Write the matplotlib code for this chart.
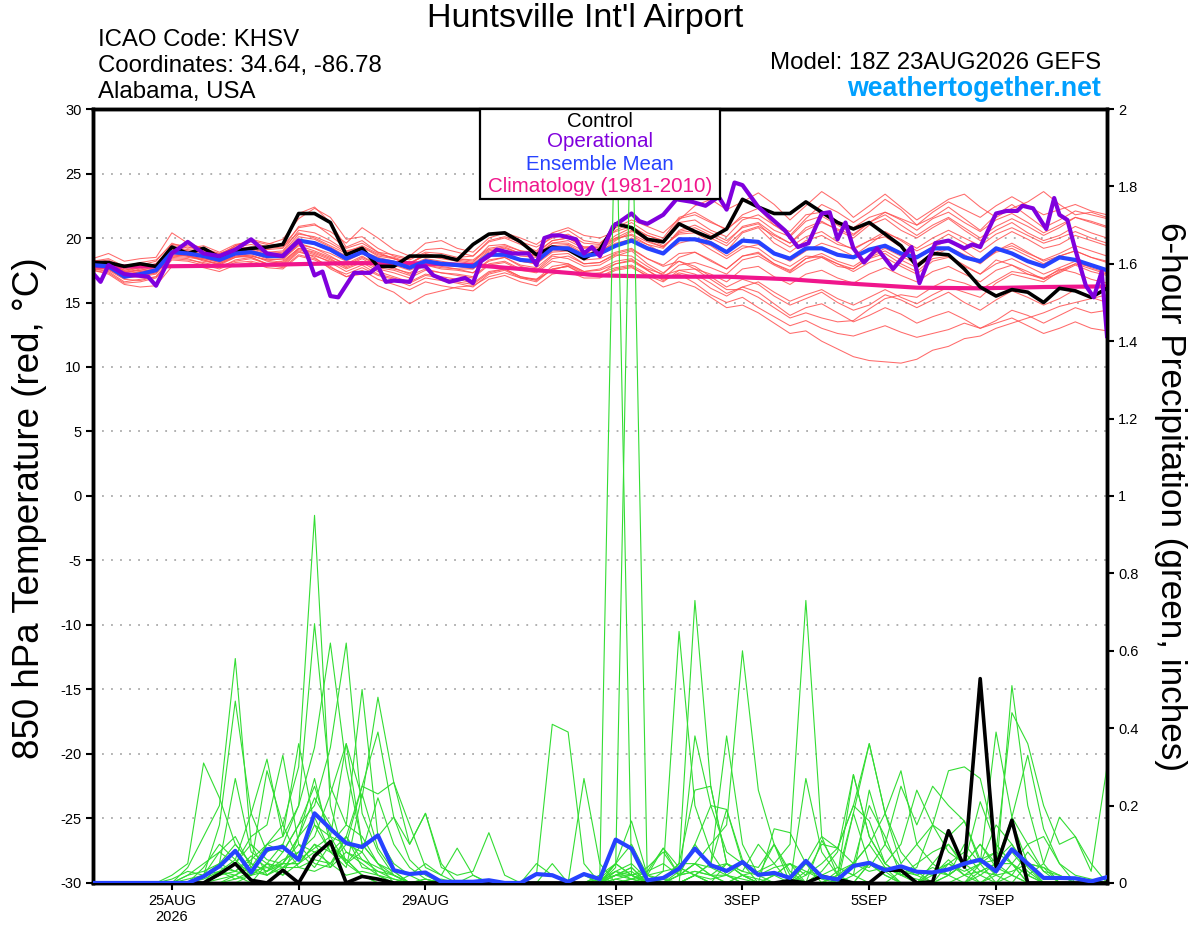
import numpy as np
import pandas as pd
import matplotlib
matplotlib.use('Agg')
import matplotlib.pyplot as plt
from matplotlib.patches import Rectangle

plt.rcParams['font.family'] = ['Liberation Sans', 'DejaVu Sans']
plt.rcParams['axes.unicode_minus'] = False

# GEFS 18Z 23AUG2026 run, 6-hourly out to 384 h
RUN = pd.Timestamp('2026-08-23 18:00')
times = pd.date_range(RUN, periods=65, freq='6h')

# 850 hPa temperature (C)
ctrl_temp = [18.1, 18.1, 17.8, 18.0, 17.8, 19.3, 18.8, 19.2, 18.5, 19.0, 19.2, 19.3, 19.5, 21.9, 21.9, 21.2,
             18.7, 19.2, 17.8, 17.8, 18.6, 18.6, 18.6, 18.3, 19.5, 20.3, 20.4, 19.7, 18.7, 19.3, 19.1, 18.4,
             19.1, 21.1, 20.8, 19.9, 19.7, 21.1, 20.5, 20.0, 20.7, 23.0, 22.4, 21.9, 21.9, 22.8, 22.0, 21.2,
             20.7, 21.2, 20.3, 19.4, 17.8, 18.8, 18.7, 17.6, 16.2, 15.5, 16.0, 15.8, 15.0, 16.1, 15.9, 15.4, 16.1]
mean_temp = [17.9, 17.8, 17.0, 17.2, 17.5, 18.9, 18.8, 18.6, 18.3, 18.8, 18.9, 18.6, 18.6, 19.8, 19.6, 19.1,
             18.4, 18.9, 18.3, 18.1, 17.7, 18.2, 18.0, 17.9, 17.8, 18.7, 18.7, 18.3, 18.2, 19.2, 19.2, 18.6,
             18.8, 19.4, 19.8, 19.2, 18.8, 19.9, 19.9, 19.6, 18.9, 19.8, 19.7, 18.8, 18.4, 19.2, 19.2, 18.7,
             18.5, 19.1, 19.4, 18.8, 18.5, 19.2, 19.2, 18.5, 18.2, 19.2, 18.8, 18.2, 17.8, 18.5, 18.3, 17.9, 17.5]

# operational run, hours after 18Z 23AUG
op_hours = [0, 3, 6, 12, 21, 24, 30, 36, 42, 48, 54, 60, 66, 72, 78, 81, 84, 87, 90, 93, 99, 105, 108, 111,
            114, 120, 123, 126, 129, 135, 141, 144, 147, 150, 153, 159, 165, 168, 171, 174, 177, 183, 186, 189, 192,
            197, 204, 207, 210, 216, 221, 227, 232, 237, 240, 243, 246, 252, 257, 262, 267, 271, 276, 279, 282,
            285, 288, 292, 297, 303, 310, 313, 319, 324, 330, 333, 336, 342, 346, 350, 352, 356, 361, 364, 366,
            369, 372, 376, 379, 382, 384]
op_temp = [17.3, 16.6, 17.9, 17.2, 17.0, 16.3, 18.8, 19.7, 18.8, 18.6, 19.1, 19.9, 18.8, 18.6, 19.8, 18.8, 17.1,
           17.4, 15.5, 15.4, 17.3, 17.3, 17.8, 16.6, 16.7, 16.6, 17.8, 17.8, 17.1, 16.6, 16.9, 16.5, 18.2, 18.6,
           19.1, 18.8, 18.8, 17.9, 20.0, 20.2, 20.2, 19.9, 18.8, 19.3, 18.6,
           20.9, 21.9, 21.3, 21.1, 21.8, 23.0, 22.8, 22.5, 23.2, 22.2, 24.3, 24.1, 22.4, 21.5, 20.6, 19.3, 19.6,
           21.9, 22.0, 19.9, 21.2, 19.2, 18.1, 19.2, 17.6, 19.3, 16.5, 19.6, 19.8, 19.2, 19.5, 19.3, 21.9, 22.1,
           22.1, 22.5, 22.3, 20.7, 23.1, 21.8, 21.4, 19.1, 16.3, 15.4, 17.4, 12.4]

# climatology 1981-2010, daily at 18Z
clim_hours = list(range(0, 385, 24))
clim_temp = [17.8, 17.8, 17.85, 17.95, 18.05, 18.05, 17.9, 17.5, 17.1, 17.0, 17.0, 16.8, 16.45, 16.15, 16.1, 16.2, 16.25]

temp_members = [
    [18.0, 17.9, 17.3, 17.6, 17.9, 19.4, 19.3, 19.0, 18.6, 19.4, 19.8, 19.5, 19.9, 21.5, 22.3, 21.6,
     19.9, 20.1, 19.2, 18.6, 18.3, 18.9, 18.8, 18.5, 18.6, 19.7, 20.0, 19.5, 19.0, 20.2, 20.6, 19.8,
     19.6, 20.6, 21.2, 20.4, 20.0, 21.6, 22.0, 21.3, 20.6, 21.8, 22.3, 21.0, 20.2, 21.5, 22.6, 22.0,
     21.2, 22.0, 23.0, 22.2, 21.0, 21.6, 22.4, 21.5, 20.6, 21.8, 22.6, 21.7, 20.8, 21.4, 22.1, 21.8, 21.5],
    [17.6, 17.4, 16.6, 16.8, 17.0, 18.4, 18.3, 18.1, 17.8, 18.2, 18.4, 18.0, 17.8, 18.9, 18.6, 18.2,
     17.6, 18.1, 17.4, 17.0, 16.6, 17.2, 17.0, 16.8, 16.5, 17.4, 17.6, 17.0, 16.7, 17.6, 17.8, 17.1,
     17.0, 17.6, 17.8, 17.0, 16.2, 16.6, 16.2, 15.4, 14.6, 14.8, 14.2, 13.4, 12.6, 12.8, 12.0, 11.4,
     10.8, 10.5, 10.4, 10.3, 10.6, 11.3, 11.6, 12.2, 12.4, 13.0, 13.4, 13.8, 14.2, 14.7, 15.0, 15.3, 15.6],
    [17.8, 17.7, 17.2, 17.0, 17.3, 18.6, 18.7, 18.2, 18.0, 18.6, 18.5, 18.0, 18.2, 19.2, 18.8, 18.3,
     17.8, 18.4, 17.7, 17.5, 17.1, 17.6, 17.3, 17.1, 16.9, 17.9, 18.1, 17.5, 17.3, 18.2, 18.0, 17.4,
     17.6, 18.2, 18.4, 17.5, 16.8, 17.2, 16.5, 15.6, 15.0, 15.4, 14.6, 13.9, 13.2, 13.6, 13.0, 12.6,
     12.4, 12.8, 13.2, 12.7, 12.3, 12.6, 12.9, 13.4, 13.0, 13.6, 14.4, 14.0, 13.4, 14.0, 14.6, 14.2, 14.4],
    [18.2, 18.0, 17.4, 17.5, 17.7, 19.0, 18.6, 18.4, 18.2, 18.7, 18.6, 18.3, 18.4, 19.4, 19.0, 18.5,
     18.0, 18.6, 17.9, 17.7, 17.2, 17.9, 17.6, 17.5, 17.3, 18.2, 18.5, 17.8, 17.5, 18.6, 18.4, 17.8,
     17.9, 18.6, 19.0, 18.0, 17.3, 18.2, 17.8, 17.0, 16.2, 16.8, 16.4, 15.5, 14.8, 15.3, 15.8, 15.0,
     14.4, 14.8, 15.6, 15.2, 14.6, 15.2, 15.8, 15.0, 14.4, 15.2, 15.9, 15.4, 14.8, 15.3, 16.0, 15.4, 15.0],
    [18.1, 18.3, 17.6, 17.9, 18.2, 19.6, 19.2, 19.4, 18.9, 19.5, 19.7, 19.3, 19.6, 21.9, 22.4, 21.2,
     19.3, 19.8, 18.9, 18.4, 18.0, 18.8, 18.5, 18.3, 18.1, 19.4, 19.5, 19.0, 18.8, 19.8, 20.0, 19.3,
     19.2, 20.0, 20.6, 19.8, 19.3, 20.5, 20.8, 20.2, 19.6, 20.9, 21.2, 20.3, 19.6, 20.8, 21.3, 20.6,
     20.0, 21.0, 21.5, 20.6, 20.0, 20.8, 21.5, 20.6, 19.8, 20.6, 21.2, 20.4, 19.8, 20.2, 20.9, 20.4, 20.0],
    [17.7, 17.6, 16.9, 17.2, 17.4, 18.8, 18.9, 18.5, 18.1, 18.7, 19.0, 18.6, 18.5, 19.6, 19.2, 18.8,
     18.2, 18.8, 18.1, 17.9, 17.5, 18.0, 17.8, 17.6, 17.6, 18.6, 18.9, 18.2, 18.0, 19.2, 19.4, 18.7,
     18.9, 19.8, 20.5, 20.2, 19.8, 21.4, 22.5, 23.0, 22.2, 22.8, 23.5, 22.6, 21.4, 22.5, 23.6, 22.8,
     21.6, 22.5, 23.4, 22.4, 21.4, 22.2, 23.0, 23.4, 22.4, 21.6, 22.3, 22.8, 23.6, 22.6, 21.8, 22.0, 21.6],
    [17.9, 17.9, 17.1, 17.4, 17.6, 19.0, 18.9, 18.8, 18.4, 18.9, 19.1, 18.7, 18.8, 20.1, 19.9, 19.3,
     18.6, 19.0, 18.5, 18.2, 17.9, 18.4, 18.2, 18.0, 17.9, 18.9, 19.0, 18.6, 18.5, 19.4, 19.5, 18.8,
     19.0, 19.6, 19.9, 19.3, 18.9, 20.0, 19.8, 19.4, 18.6, 19.4, 19.2, 18.3, 17.8, 18.6, 18.5, 17.8,
     17.6, 18.4, 18.8, 18.0, 17.4, 18.4, 18.6, 17.9, 17.2, 18.3, 17.9, 17.2, 16.8, 17.6, 17.3, 16.8, 16.5],
    [18.3, 18.1, 17.5, 17.8, 18.0, 19.2, 19.0, 18.9, 18.6, 19.0, 19.2, 18.9, 19.0, 20.6, 20.4, 19.8,
     19.0, 19.3, 18.7, 18.5, 18.1, 18.6, 18.4, 18.2, 18.0, 19.0, 19.2, 18.8, 18.7, 19.6, 19.8, 19.2,
     19.3, 20.2, 20.8, 20.0, 19.4, 20.3, 20.4, 19.7, 19.0, 20.4, 20.8, 19.6, 18.9, 19.8, 20.2, 19.5,
     19.2, 19.8, 20.5, 19.8, 19.0, 19.6, 20.3, 19.6, 18.9, 19.8, 20.5, 19.9, 19.2, 19.5, 20.2, 19.8, 19.4],
    [17.5, 17.3, 16.5, 16.6, 16.9, 18.3, 18.2, 17.9, 17.6, 18.1, 18.2, 17.9, 17.7, 18.7, 18.4, 17.8,
     17.0, 17.5, 16.8, 16.4, 16.0, 16.6, 16.3, 16.1, 15.9, 16.8, 17.1, 16.6, 16.3, 17.2, 17.4, 16.9,
     16.9, 17.5, 17.7, 17.1, 16.6, 17.5, 17.6, 17.2, 16.6, 17.6, 17.8, 17.0, 16.4, 17.2, 17.5, 16.9,
     16.5, 17.2, 17.7, 17.1, 16.6, 17.4, 17.8, 17.2, 16.6, 17.5, 17.9, 17.4, 16.8, 17.3, 17.9, 17.4, 17.1],
    [18.4, 18.8, 18.2, 18.4, 18.5, 20.4, 19.6, 19.2, 18.7, 19.4, 19.9, 19.6, 19.4, 20.8, 21.0, 20.5,
     19.6, 20.8, 20.0, 19.1, 18.6, 19.6, 19.8, 19.2, 18.9, 20.0, 20.4, 20.0, 19.5, 20.4, 20.8, 20.2,
     20.0, 20.5, 20.9, 20.2, 19.8, 21.2, 21.4, 20.6, 20.1, 21.4, 21.8, 21.0, 20.5, 21.8, 22.0, 21.3,
     20.8, 21.6, 22.0, 21.4, 20.6, 21.5, 22.0, 21.2, 20.5, 21.4, 21.9, 21.2, 20.4, 21.0, 21.6, 21.2, 20.8],
    [17.6, 17.5, 16.8, 16.7, 17.0, 18.5, 18.4, 18.0, 17.7, 18.3, 18.5, 18.0, 17.9, 19.0, 18.5, 17.6,
     17.0, 17.2, 16.3, 15.8, 14.9, 15.6, 15.9, 16.2, 16.3, 17.0, 17.3, 16.9, 16.8, 17.5, 17.9, 17.3,
     17.2, 18.0, 18.3, 17.6, 17.2, 18.5, 18.9, 18.3, 17.6, 18.6, 18.9, 18.0, 17.4, 18.4, 18.6, 18.0,
     17.4, 18.1, 18.5, 17.8, 17.2, 18.2, 18.5, 17.8, 17.2, 18.0, 18.4, 17.8, 17.2, 17.7, 18.2, 17.7, 17.3],
    [17.9, 17.7, 17.0, 17.3, 17.5, 18.8, 18.6, 18.4, 18.1, 18.6, 18.8, 18.4, 18.3, 19.5, 19.2, 18.6,
     17.9, 18.5, 17.9, 17.6, 17.3, 17.9, 17.7, 17.6, 17.3, 18.3, 18.5, 17.9, 17.7, 18.7, 18.8, 18.0,
     18.1, 18.7, 18.6, 17.8, 17.1, 17.5, 17.2, 16.5, 15.7, 16.2, 15.8, 14.9, 14.0, 14.6, 14.9, 14.2,
     13.5, 14.0, 14.6, 14.1, 13.4, 13.9, 14.3, 13.7, 13.0, 13.4, 13.8, 13.2, 12.6, 13.0, 13.5, 13.0, 12.8],
    [18.0, 18.1, 17.4, 17.7, 17.9, 19.3, 19.1, 19.0, 18.8, 19.2, 19.3, 19.1, 19.2, 20.9, 21.1, 20.2,
     19.2, 19.6, 18.9, 18.7, 18.4, 19.1, 19.2, 18.9, 18.6, 19.8, 20.1, 19.7, 19.3, 20.0, 20.3, 19.6,
     19.5, 20.8, 21.4, 20.9, 20.4, 21.5, 21.8, 21.2, 20.7, 21.6, 21.5, 20.6, 20.1, 21.3, 21.7, 21.0,
     20.3, 21.2, 21.8, 21.0, 20.2, 21.0, 21.6, 20.8, 20.0, 20.9, 21.5, 20.9, 20.2, 20.8, 21.6, 21.3, 20.9],
    [17.7, 17.8, 17.2, 17.4, 17.6, 18.9, 18.7, 18.5, 18.3, 18.8, 18.9, 18.5, 18.6, 19.8, 19.5, 19.0,
     18.3, 18.9, 18.3, 18.0, 17.7, 18.3, 18.1, 17.9, 17.7, 18.7, 18.8, 18.3, 18.1, 19.0, 19.1, 18.5,
     18.7, 19.4, 20.0, 19.5, 19.2, 20.6, 21.0, 20.4, 19.8, 20.8, 21.1, 20.0, 19.3, 20.1, 20.5, 19.7,
     19.1, 19.8, 20.1, 19.3, 18.6, 19.3, 19.8, 19.0, 18.2, 19.0, 19.6, 18.9, 18.2, 18.6, 19.0, 18.5, 18.1],
    [18.0, 17.6, 16.9, 17.1, 17.3, 18.6, 18.5, 18.3, 17.9, 18.5, 18.7, 18.2, 18.0, 19.1, 18.7, 18.1,
     17.4, 17.9, 17.2, 16.9, 16.5, 17.1, 16.9, 16.6, 16.4, 17.3, 17.6, 17.0, 16.8, 17.8, 18.0, 17.4,
     17.5, 18.0, 18.2, 17.5, 16.7, 17.3, 17.0, 16.1, 15.5, 16.2, 16.6, 15.8, 15.1, 15.6, 16.0, 15.3,
     14.8, 15.4, 16.0, 15.4, 14.9, 15.6, 16.2, 15.8, 15.4, 16.5, 17.2, 16.9, 16.6, 17.4, 18.0, 17.8, 17.6],
    [18.2, 18.4, 17.8, 18.1, 18.3, 19.5, 19.4, 19.2, 18.8, 19.3, 19.5, 19.2, 19.3, 20.4, 20.0, 19.4,
     18.8, 19.3, 18.6, 18.4, 18.0, 18.7, 18.6, 18.4, 18.3, 19.2, 19.4, 19.0, 18.9, 19.8, 20.0, 19.3,
     19.4, 20.0, 20.2, 19.5, 18.8, 19.6, 19.9, 19.1, 18.4, 19.2, 19.5, 18.8, 18.2, 19.0, 19.6, 19.2,
     18.6, 19.5, 20.4, 19.9, 19.2, 20.0, 20.6, 20.0, 19.4, 20.3, 20.8, 20.2, 19.6, 20.0, 20.5, 20.0, 19.6],
    [17.5, 17.2, 16.4, 16.2, 16.3, 17.8, 17.9, 17.7, 17.4, 17.9, 18.1, 17.7, 17.6, 18.6, 18.3, 17.7,
     17.2, 17.7, 17.1, 16.8, 16.3, 16.9, 16.7, 16.5, 16.2, 17.2, 17.5, 16.9, 16.6, 17.6, 17.8, 17.2,
     17.3, 17.7, 17.9, 17.2, 16.9, 17.9, 18.1, 17.7, 17.2, 18.3, 18.6, 17.9, 17.3, 18.1, 18.5, 18.0,
     17.6, 18.5, 19.0, 18.3, 17.7, 18.6, 19.2, 18.6, 18.0, 19.0, 19.4, 18.8, 18.3, 18.8, 19.4, 19.0, 18.6],
    [17.8, 17.9, 17.3, 17.5, 17.8, 19.1, 18.8, 18.6, 18.3, 18.9, 19.0, 18.7, 18.7, 19.9, 19.6, 19.2,
     18.5, 18.9, 18.2, 18.0, 17.6, 18.2, 18.0, 17.8, 17.6, 18.6, 18.7, 18.2, 18.0, 18.9, 19.0, 18.3,
     18.4, 18.9, 19.2, 18.4, 17.8, 18.2, 17.6, 16.8, 16.0, 16.0, 15.4, 14.6, 13.8, 14.2, 13.8, 13.5,
     13.6, 14.5, 15.3, 15.6, 15.4, 16.2, 16.8, 16.5, 16.0, 16.7, 17.4, 17.2, 16.9, 17.5, 18.0, 17.6, 17.2],
    [18.1, 18.0, 17.5, 17.7, 18.0, 19.3, 19.0, 18.7, 18.4, 19.0, 19.2, 18.8, 18.9, 20.3, 20.1, 19.6,
     18.9, 19.4, 18.8, 18.4, 18.0, 18.7, 18.6, 18.4, 18.2, 19.1, 19.3, 18.8, 18.6, 19.6, 19.6, 19.0,
     19.1, 19.9, 20.3, 19.7, 19.3, 20.4, 20.6, 20.0, 19.4, 20.5, 20.9, 20.2, 19.6, 20.6, 21.2, 20.7,
     20.2, 21.2, 22.0, 21.5, 21.0, 22.0, 22.8, 22.2, 21.6, 22.5, 23.2, 22.5, 21.8, 22.2, 22.6, 22.1, 21.8],
    [17.7, 17.6, 16.9, 17.0, 17.2, 18.7, 18.6, 18.3, 18.0, 18.5, 18.6, 18.3, 18.1, 19.2, 18.9, 18.4,
     17.7, 18.2, 17.6, 17.3, 16.9, 17.5, 17.3, 17.2, 17.0, 18.0, 18.2, 17.6, 17.4, 18.4, 18.6, 18.0,
     18.1, 18.8, 19.1, 18.4, 17.9, 18.8, 18.9, 18.2, 17.6, 18.6, 18.8, 18.0, 17.5, 18.4, 18.8, 18.2,
     17.8, 18.6, 19.2, 18.6, 18.0, 18.8, 19.3, 18.7, 18.1, 18.9, 19.2, 18.6, 18.0, 18.6, 19.0, 18.5, 18.2],
]

# 6-hour precipitation (inches)
ctrl_precip = [0, 0, 0, 0, 0, 0, 0, 0, 0.023, 0.05, 0.007, 0, 0.033,
               0, 0.07, 0.107, 0, 0.017, 0.01, 0, 0, 0, 0, 0, 0, 0,
               0, 0, 0, 0, 0, 0, 0, 0, 0, 0, 0, 0, 0,
               0, 0, 0, 0, 0, 0.006, 0, 0.017, 0.009, 0, 0, 0.033, 0.033,
               0, 0.003, 0.135, 0.041, 0.528, 0.041, 0.162, 0, 0, 0, 0, 0, 0]
mean_precip = [0, 0, 0, 0, 0, 0, 0, 0.017, 0.043, 0.083, 0.027, 0.087, 0.093,
               0.06, 0.18, 0.14, 0.103, 0.093, 0.123, 0.033, 0.023, 0.027, 0.003, 0.003, 0.003, 0.007,
               0, 0, 0.023, 0.02, 0.003, 0.023, 0.01, 0.112, 0.089, 0.007, 0.013, 0.037, 0.089,
               0.046, 0.031, 0.054, 0.021, 0.026, 0.013, 0.057, 0.016, 0.009, 0.044, 0.052, 0.033, 0.043,
               0.029, 0.027, 0.035, 0.05, 0.06, 0.03, 0.087, 0.05, 0.013, 0.013, 0.012, 0.004, 0.015]

precip_members = [
    [0, 0, 0, 0, 0, 0, 0.02, 0.05, 0.08, 0.12, 0.04, 0.10, 0.15,
     0.30, 0.95, 0.20, 0.05, 0.02, 0, 0, 0, 0.01, 0, 0, 0, 0,
     0, 0, 0, 0, 0, 0, 0, 0.02, 0.04, 0, 0, 0.03, 0.10,
     0.04, 0.02, 0, 0, 0, 0.01, 0.05, 0.02, 0, 0, 0.05, 0.03, 0,
     0, 0.02, 0.06, 0.02, 0, 0, 0.05, 0.02, 0, 0, 0, 0, 0],
    [0, 0, 0, 0, 0, 0, 0.04, 0.12, 0.20, 0.58, 0.10, 0.02, 0.05,
     0.12, 0.27, 0.10, 0.06, 0.02, 0.01, 0, 0, 0, 0, 0, 0, 0,
     0, 0, 0, 0, 0, 0, 0.02, 2.10, 0.02, 0, 0.01, 0, 0.02,
     0, 0, 0.02, 0.01, 0, 0, 0, 0, 0.02, 0.28, 0.12, 0.05, 0.02,
     0.01, 0, 0.02, 0.10, 0.05, 0, 0.02, 0, 0, 0, 0, 0, 0],
    [0, 0, 0, 0, 0, 0.01, 0.03, 0.02, 0.15, 0.47, 0.18, 0.08, 0.10,
     0.20, 0.35, 0.62, 0.30, 0.10, 0.05, 0.02, 0, 0, 0, 0, 0, 0,
     0, 0, 0, 0, 0, 0, 0, 0.04, 2.10, 0, 0, 0.02, 0.05,
     0.02, 0, 0, 0, 0, 0, 0.03, 0.01, 0, 0.05, 0.20, 0.12, 0.02,
     0, 0.05, 0.10, 0.04, 0, 0.03, 0.08, 0.03, 0, 0, 0, 0, 0],
    [0, 0, 0, 0, 0, 0.02, 0.05, 0.31, 0.22, 0.10, 0.05, 0.03, 0.08,
     0.15, 0.20, 0.35, 0.62, 0.18, 0.08, 0.02, 0, 0.01, 0, 0, 0, 0,
     0, 0, 0, 0, 0, 0, 0, 0.01, 0, 0, 0.03, 0.65, 0.20,
     0.08, 0.02, 0.01, 0, 0, 0, 0, 0.02, 0.04, 0.02, 0, 0, 0,
     0, 0.03, 0.02, 0, 0.05, 0.15, 0.10, 0.04, 0, 0, 0, 0, 0],
    [0, 0, 0, 0, 0, 0, 0, 0.04, 0.10, 0.06, 0.18, 0.32, 0.12,
     0.20, 0.67, 0.25, 0.15, 0.50, 0.12, 0.05, 0.02, 0, 0, 0, 0, 0,
     0, 0, 0, 0, 0, 0, 0, 0, 0, 0, 0, 0.05, 0.73,
     0.25, 0.05, 0.02, 0, 0, 0, 0, 0, 0.02, 0.05, 0.10, 0.04, 0,
     0, 0, 0.05, 0.08, 0.03, 0.02, 0.51, 0.20, 0.05, 0, 0, 0, 0],
    [0, 0, 0, 0, 0, 0, 0.02, 0.03, 0.05, 0.10, 0.05, 0.29, 0.15,
     0.06, 0.15, 0.12, 0.36, 0.22, 0.48, 0.26, 0.10, 0.18, 0.05, 0, 0, 0,
     0, 0, 0, 0, 0, 0, 0, 0.02, 0.03, 0, 0, 0, 0.38,
     0.20, 0.19, 0.05, 0, 0, 0, 0, 0, 0, 0.18, 0.36, 0.18, 0.08,
     0.03, 0, 0, 0, 0.02, 0.05, 0.02, 0, 0, 0, 0, 0, 0],
    [0, 0, 0, 0, 0, 0, 0, 0.02, 0.08, 0.05, 0.12, 0.15, 0.33,
     0.10, 0.08, 0.05, 0.10, 0.25, 0.39, 0.17, 0.06, 0.02, 0, 0, 0, 0,
     0, 0, 0, 0, 0, 0, 0.01, 0.05, 0.16, 0.02, 0, 0, 0.02,
     0.05, 0.38, 0.10, 0.02, 0, 0, 0.27, 0.08, 0.02, 0, 0, 0, 0,
     0, 0, 0.02, 0.05, 0.02, 0, 0, 0.05, 0, 0, 0, 0, 0],
    [0, 0, 0, 0, 0, 0, 0, 0, 0.03, 0.06, 0.02, 0.10, 0.12,
     0.36, 0.15, 0.08, 0.06, 0.02, 0, 0, 0.02, 0.05, 0.02, 0, 0, 0,
     0, 0, 0.02, 0.41, 0.39, 0.05, 0, 0.03, 0.05, 0.01, 0, 0, 0.02,
     0, 0, 0.02, 0, 0.14, 0.13, 0.05, 0, 0, 0, 0, 0, 0,
     0, 0, 0, 0.02, 0.03, 0.05, 0.05, 0, 0, 0, 0, 0, 0],
    [0, 0, 0, 0, 0, 0, 0.01, 0.02, 0.05, 0.27, 0.08, 0.05, 0.04,
     0.08, 0.12, 0.23, 0.36, 0.10, 0.05, 0.03, 0, 0, 0, 0, 0, 0,
     0, 0, 0, 0, 0, 0, 0, 0.02, 0.02, 0, 0.01, 0.05, 0.05,
     0.10, 0.15, 0.60, 0.24, 0.10, 0.02, 0, 0, 0, 0, 0.05, 0.02, 0,
     0, 0, 0, 0, 0.03, 0.05, 0.17, 0.10, 0.03, 0, 0, 0, 0],
    [0, 0, 0, 0, 0, 0, 0, 0, 0.02, 0.05, 0.03, 0.04, 0.05,
     0.05, 0.10, 0.08, 0.12, 0.25, 0.23, 0.26, 0.15, 0.04, 0.02, 0.09, 0.02, 0,
     0, 0, 0, 0.05, 0, 0.27, 0.05, 0, 0, 0.02, 0.01, 0.05, 0.24,
     0.25, 0.05, 0.02, 0, 0.02, 0.05, 0, 0, 0, 0, 0, 0, 0,
     0, 0, 0, 0, 0, 0.02, 0, 0, 0, 0, 0, 0, 0],
    [0, 0, 0, 0, 0, 0, 0, 0.01, 0.03, 0.02, 0.05, 0.03, 0.06,
     0.08, 0.04, 0.10, 0.05, 0.10, 0.12, 0.17, 0.10, 0.18, 0.04, 0.02, 0.03, 0.13,
     0.02, 0, 0, 0, 0, 0, 0.01, 0.02, 0.01, 0, 0, 0, 0,
     0, 0.05, 0.02, 0.03, 0.05, 0.10, 0.73, 0.12, 0.02, 0, 0, 0, 0.03,
     0.02, 0, 0, 0, 0, 0, 0, 0, 0, 0, 0, 0, 0],
    [0, 0, 0, 0, 0, 0, 0, 0, 0, 0.02, 0, 0.05, 0.02,
     0.05, 0.10, 0.04, 0.08, 0.05, 0.02, 0.01, 0, 0, 0, 0, 0, 0,
     0, 0, 0.05, 0.02, 0, 0, 0, 0.05, 0.02, 0, 0, 0.02, 0.03,
     0.02, 0, 0, 0, 0, 0, 0.02, 0.05, 0.09, 0.20, 0.36, 0.18, 0.29,
     0.10, 0.05, 0.02, 0.05, 0.21, 0.10, 0.05, 0, 0, 0, 0, 0, 0],
    [0, 0, 0, 0, 0, 0, 0, 0.02, 0.04, 0.03, 0.06, 0.10, 0.08,
     0.15, 0.25, 0.12, 0.05, 0.08, 0.02, 0, 0, 0, 0.01, 0, 0, 0,
     0, 0, 0, 0, 0, 0.02, 0, 0, 0.01, 0, 0, 0, 0.02,
     0, 0, 0, 0, 0.02, 0, 0, 0.03, 0.08, 0.28, 0.12, 0.05, 0.10,
     0.24, 0.15, 0.29, 0.30, 0.27, 0.10, 0.05, 0.02, 0, 0, 0, 0, 0],
    [0, 0, 0, 0, 0, 0, 0, 0, 0.02, 0.05, 0.10, 0.06, 0.05,
     0.10, 0.05, 0.04, 0.12, 0.06, 0.03, 0.02, 0, 0, 0, 0, 0.02, 0,
     0, 0, 0, 0, 0, 0, 0, 0.02, 0.04, 0, 0, 0.02, 0.05,
     0.02, 0.02, 0, 0, 0, 0, 0.05, 0.12, 0.09, 0.05, 0.04, 0.10, 0.25,
     0.15, 0.25, 0.20, 0.16, 0.05, 0.39, 0.17, 0.33, 0.14, 0.05, 0, 0, 0],
    [0, 0, 0, 0, 0, 0, 0, 0, 0, 0.01, 0.02, 0.03, 0.05,
     0.12, 0.22, 0.15, 0.08, 0.06, 0.04, 0.02, 0, 0, 0, 0, 0, 0,
     0, 0, 0, 0, 0, 0, 0, 0.05, 0.02, 0, 0, 0, 0,
     0, 0, 0, 0, 0, 0, 0, 0, 0.02, 0.18, 0.05, 0.04, 0.02,
     0.05, 0.08, 0.10, 0.05, 0.06, 0.08, 0.44, 0.36, 0.20, 0.10, 0.12, 0.05, 0],
    [0, 0, 0, 0, 0, 0, 0, 0, 0.01, 0.02, 0.04, 0.02, 0.05,
     0.05, 0.08, 0.10, 0.15, 0.12, 0.05, 0, 0, 0, 0, 0, 0, 0,
     0, 0, 0, 0, 0, 0, 0, 0.01, 0.02, 0.03, 0.09, 0.02, 0.05,
     0.04, 0.05, 0.03, 0.10, 0.05, 0, 0, 0, 0, 0.02, 0.05, 0.02, 0,
     0, 0.03, 0.05, 0.02, 0.05, 0.06, 0.10, 0.02, 0.05, 0.17, 0.12, 0.03, 0.30],
    [0, 0, 0, 0, 0, 0, 0, 0, 0, 0, 0.02, 0.05, 0.04,
     0.06, 0.09, 0.12, 0.10, 0.08, 0.22, 0.10, 0.04, 0.01, 0, 0, 0, 0,
     0, 0, 0, 0, 0, 0, 0, 0.03, 0.01, 0.02, 0.09, 0.04, 0.02,
     0.01, 0.02, 0.05, 0.04, 0.10, 0, 0, 0, 0.03, 0.05, 0.10, 0.18, 0.05,
     0.10, 0.15, 0.12, 0.16, 0.06, 0.02, 0.03, 0.05, 0.04, 0.02, 0, 0, 0],
    [0, 0, 0, 0, 0, 0, 0, 0, 0.05, 0.03, 0.07, 0.04, 0.02,
     0.12, 0.17, 0.08, 0.04, 0.23, 0.09, 0.03, 0, 0, 0, 0, 0, 0,
     0, 0, 0, 0, 0, 0, 0, 0, 0.01, 0.03, 0.05, 0.02, 0.10,
     0.20, 0.08, 0.05, 0.02, 0.10, 0.03, 0, 0.11, 0.04, 0.02, 0.24, 0.10, 0.04,
     0.02, 0.04, 0.02, 0.05, 0.10, 0.04, 0.02, 0.08, 0.03, 0.02, 0, 0, 0],
    [0, 0, 0, 0, 0, 0, 0, 0, 0.02, 0.03, 0.02, 0.05, 0.10,
     0.04, 0.06, 0.05, 0.12, 0.04, 0.03, 0.01, 0, 0, 0, 0, 0, 0,
     0, 0, 0, 0, 0, 0, 0.01, 0.03, 0.02, 0.04, 0.08, 0.02, 0.03,
     0.02, 0.05, 0.03, 0.02, 0.04, 0.05, 0.02, 0.10, 0.09, 0.20, 0.16, 0.05, 0.02,
     0.04, 0.15, 0.08, 0.05, 0.10, 0.05, 0.16, 0.05, 0.04, 0, 0, 0, 0],
    [0, 0, 0, 0, 0, 0, 0, 0.02, 0.03, 0.01, 0.03, 0.02, 0.04,
     0.04, 0.03, 0.05, 0.02, 0.03, 0.02, 0, 0, 0, 0, 0, 0, 0,
     0, 0, 0, 0, 0, 0, 0.02, 0.05, 0.10, 0.02, 0.03, 0.04, 0.02,
     0.05, 0.19, 0.06, 0.02, 0.02, 0.05, 0.03, 0.02, 0, 0.05, 0.03, 0.04, 0.02,
     0.03, 0.02, 0.05, 0.03, 0.05, 0.08, 0.05, 0.10, 0.12, 0.05, 0.02, 0.01, 0],
]

tick_dates = pd.to_datetime(['2026-08-25', '2026-08-27', '2026-08-29', '2026-09-01',
                             '2026-09-03', '2026-09-05', '2026-09-07'])
tick_labels = ['25AUG\n2026', '27AUG', '29AUG', '1SEP', '3SEP', '5SEP', '7SEP']

legend_labels = ['Control', 'Operational', 'Ensemble Mean', 'Climatology (1981-2010)']

op_times = RUN + pd.to_timedelta(op_hours, unit='h')
clim_times = RUN + pd.to_timedelta(clim_hours, unit='h')

RED = '#ff5050'
GREEN = '#33dd33'
BLUE = '#2642ff'
PURPLE = '#8000dd'
PINK = '#f0168c'

fig = plt.figure(figsize=(12, 9.27), dpi=100)
ax = fig.add_axes([0.0772, 0.0475, 0.8453, 0.8349])
ax2 = ax.twinx()

for m in temp_members:
    ax.plot(times, m, color=RED, lw=0.75, alpha=0.85, zorder=2)
ax.plot(clim_times, clim_temp, color=PINK, lw=3, zorder=3)
ax.plot(times, ctrl_temp, color='black', lw=2.6, zorder=4)
ax.plot(times, mean_temp, color=BLUE, lw=3, zorder=5)
ax.plot(op_times, op_temp, color=PURPLE, lw=3, zorder=6)

for m in precip_members:
    ax2.plot(times, m, color=GREEN, lw=0.8, zorder=2)
ax2.plot(times, mean_precip, color=BLUE, lw=3, zorder=4)
ax2.plot(times, ctrl_precip, color='black', lw=2.6, zorder=3)

for y in range(-25, 30, 5):
    ax.axhline(y, color='#aaaaaa', lw=1.3, ls=(0, (1, 4)), zorder=1)

ax.set_xlim(times[0], times[-1])
ax.set_ylim(-30, 30)
ax.set_yticks(range(-30, 31, 5))
ax.set_xticks(tick_dates)
ax.set_xticklabels(tick_labels)
ax2.set_ylim(0, 2)
rticks = np.arange(0, 2.01, 0.2)
ax2.set_yticks(rticks)
ax2.set_yticklabels(['%g' % round(t, 1) for t in rticks])

for a in (ax, ax2):
    a.tick_params(direction='out', length=5, width=1.5, labelsize=10.5, pad=3)
    for s in a.spines.values():
        s.set_linewidth(2.5)

# legend box: white, framed, lines of coloured centred text
ax2.add_patch(Rectangle((0.3819, 0.8837), 0.2366, 0.1163, transform=ax2.transAxes,
                        facecolor='white', edgecolor='black', lw=1.6, zorder=20, clip_on=False))
leg_y = [0.9845, 0.9574, 0.9289, 0.9005]
for lab, col, yy in zip(legend_labels, ['black', PURPLE, BLUE, PINK], leg_y):
    ax2.text(0.5, yy, lab, color=col, fontsize=14.8, ha='center', va='center',
             transform=ax2.transAxes, zorder=21)

fig.text(585 / 1200, 1 - 18 / 927, "Huntsville Int'l Airport", fontsize=24.5, ha='center', va='center')
fig.text(98 / 1200, 1 - 40 / 927, 'ICAO Code: KHSV', fontsize=17.3, ha='left', va='center')
fig.text(98 / 1200, 1 - 66 / 927, 'Coordinates: 34.64, -86.78', fontsize=17.3, ha='left', va='center')
fig.text(98 / 1200, 1 - 92 / 927, 'Alabama, USA', fontsize=17.3, ha='left', va='center')
fig.text(1101 / 1200, 1 - 63 / 927, 'Model: 18Z 23AUG2026 GEFS', fontsize=17.3, ha='right', va='center')
fig.text(1101 / 1200, 1 - 89 / 927, 'weathertogether.net', fontsize=19.3, fontweight='bold',
         color='#00a0ff', ha='right', va='center')
fig.text(30 / 1200, 1 - 508 / 927, '850 hPa Temperature (red, °C)', fontsize=26.5,
         rotation=90, ha='center', va='center')
fig.text(1170 / 1200, 1 - 496 / 927, '6-hour Precipitation (green, inches)', fontsize=25.3,
         rotation=270, ha='center', va='center')

fig.savefig('out.png', dpi=100)
